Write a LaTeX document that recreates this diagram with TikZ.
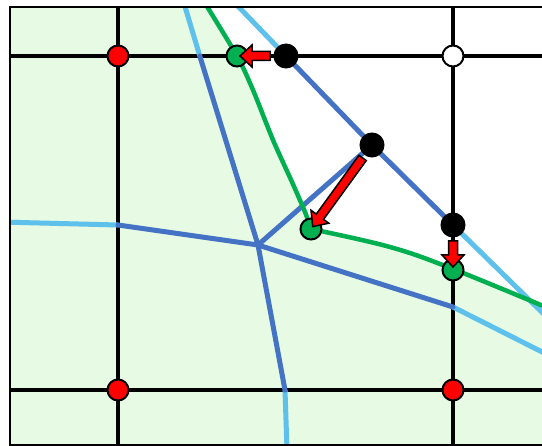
\documentclass[tikz,border=0pt]{standalone}
\usepackage{xcolor}
\usepackage{tikz}
\usetikzlibrary{calc}
\definecolor{cellblue}{RGB}{68, 114, 196}
\definecolor{skyblue}{RGB}{93, 193, 235}
\definecolor{frontgreen}{RGB}{0, 176, 80}
\definecolor{regiongreen}{RGB}{230, 250, 228}

% red block arrow from a black dot to its green dot
\newcommand{\shiftarrow}[2]{%
  \draw[movearrow] let \p1=($(#1.center)!16pt!(#2.center)$), \p2=($(#2.center)!3pt!(#1.center)$),
    \n1={atan2(\y2-\y1,\x2-\x1)}, \n2={veclen(\x2-\x1,\y2-\y1)-12pt} in
    ($(\p1)+(\n1+90:4.5pt)$) -- ($(\p1)+(\n1+90:4.5pt)+(\n1:\n2)$)
    -- ($(\p1)+(\n1+90:11pt)+(\n1:\n2)$) -- (\p2)
    -- ($(\p1)+(\n1-90:11pt)+(\n1:\n2)$) -- ($(\p1)+(\n1-90:4.5pt)+(\n1:\n2)$)
    -- ($(\p1)+(\n1-90:4.5pt)$) -- cycle;}

\begin{document}
\begin{tikzpicture}[x=1pt,y=-1pt,
  gridline/.style={line width=4pt},
  innercell/.style={cellblue,line width=5pt,line cap=round},
  outercell/.style={skyblue,line width=5pt},
  front/.style={frontgreen,line width=4.5pt,line join=round},
  dot/.style={circle,draw=black,line width=2pt,minimum size=21pt,inner sep=0pt},
  movearrow/.style={draw=black,fill=red,line width=1.5pt,line join=miter}]
  \useasboundingbox (0,0) rectangle (542,446);

  % cell corners and edge ends
  \coordinate (J) at (258,245);
  \coordinate (p1) at (286,56);
  \coordinate (p2) at (372,145);
  \coordinate (p3) at (453,225);
  \coordinate (U0) at (183,0);   \coordinate (U1) at (199.8,56);
  \coordinate (L0) at (0,222);   \coordinate (L1) at (118,225);
  \coordinate (D0) at (287,450); \coordinate (D1) at (285,390);
  \coordinate (R0) at (560,361); \coordinate (R1) at (453,307);
  \coordinate (V0) at (232,0);   \coordinate (W0) at (560,330);

  \begin{scope}
    \clip (10,7) rectangle (560,445);
    % region behind the front
    \fill[regiongreen] (0,0)
      -- plot[smooth,tension=0.5] coordinates {(203,0) (237,56) (253,90) (273,140) (292,182) (305,212) (311,229)}
      -- plot[smooth,tension=0.6] coordinates {(311,229) (390,247) (453,269) (560,313)}
      -- (560,450) -- (0,450) -- cycle;
    % grid
    \draw[gridline] (0,56) -- (560,56);
    \draw[gridline] (0,390) -- (560,390);
    \draw[gridline] (118,0) -- (118,450);
    \draw[gridline] (453,0) -- (453,450);
    % cell edges
    \draw[outercell] (U0) -- (U1);
    \draw[outercell] (L0) -- (L1);
    \draw[outercell] (D1) -- (D0);
    \draw[outercell] (R1) -- (R0);
    \draw[outercell] (V0) -- (p1);
    \draw[outercell] (p3) -- (W0);
    \draw[innercell] (U1) -- (J);
    \draw[innercell] (L1) -- (J);
    \draw[innercell] (J) -- (D1);
    \draw[innercell] (J) -- (R1);
    \draw[innercell] (J) -- (p2);
    \draw[innercell,line join=round] (p1) -- (p2) -- (p3);
    % front
    \draw[front] plot[smooth,tension=0.5] coordinates {(203,0) (237,56) (253,90) (273,140) (292,182) (305,212) (311,229)};
    \draw[front] plot[smooth,tension=0.6] coordinates {(311,229) (390,247) (453,269) (560,313)};
  \end{scope}
  \draw[line width=2.5pt] (10,7) rectangle (560,445);

  % dots
  \node[dot,fill=red] (r1) at (118,56) {};
  \node[dot,fill=red] (r2) at (118,390) {};
  \node[dot,fill=red] (r3) at (453,390) {};
  \node[dot,fill=white] (w1) at (453,56) {};
  \node[dot,fill=frontgreen] (g1) at (237,56) {};
  \node[dot,fill=frontgreen] (g2) at (311,229) {};
  \node[dot,fill=frontgreen] (g3) at (453,270) {};
  \node[dot,fill=black,minimum size=23pt] (b1) at (p1) {};
  \node[dot,fill=black,minimum size=23pt] (b2) at (p2) {};
  \node[dot,fill=black,minimum size=23pt] (b3) at (p3) {};

  % moves
  \shiftarrow{b1}{g1}
  \shiftarrow{b2}{g2}
  \shiftarrow{b3}{g3}
\end{tikzpicture}
\end{document}
